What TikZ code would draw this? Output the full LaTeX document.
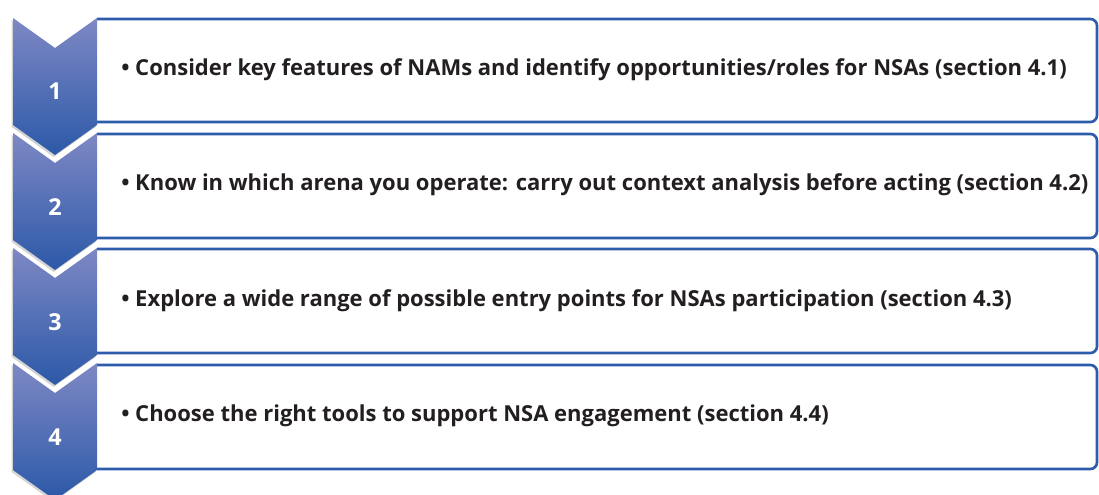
\documentclass[tikz,border=0pt]{standalone}
\usepackage{fontspec}
\setmainfont{Open Sans}
\usepackage{tikz}
\usetikzlibrary{positioning, shadows}
\definecolor{stepblue}{RGB}{44,89,168}
\definecolor{steplight}{RGB}{126,136,196}
\definecolor{lineblue}{RGB}{44,92,170}
\definecolor{textdark}{RGB}{35,31,32}

\begin{document}
\begin{tikzpicture}[
    x=0.75pt, y=-0.75pt,
    % --- STYLES ---
    chevron/.style={
        top color=steplight, bottom color=stepblue,
        drop shadow={opacity=0.35, shadow xshift=-1pt, shadow yshift=-1.5pt}
    },
    stepbox/.style={draw=lineblue, line width=2pt, rounded corners=5pt},
    stepnum/.style={text=white, font=\fontsize{17.5}{20}\selectfont\bfseries},
    steptext/.style={anchor=west, text=textdark, inner sep=0pt,
        font=\fontsize{16.5}{20}\selectfont\bfseries}
]
\useasboundingbox (0,0) rectangle (1099,495);

% ===== 1. BOXES =====
\draw[stepbox] (97,19) -| (1097,122) -- (97,122);
\draw[stepbox] (97,134) -| (1097,238) -- (97,238);
\draw[stepbox] (97,249) -| (1097,353) -- (97,353);
\draw[stepbox] (97,365) -| (1097,469) -- (97,469);

% ===== 2. CHEVRONS =====
\path[chevron] (13,18) -- (55,48) -- (97,18) -- (97,125) -- (55,155) -- (13,125) -- cycle;
\path[chevron] (13,133) -- (55,163) -- (97,133) -- (97,240) -- (55,270) -- (13,240) -- cycle;
\path[chevron] (13,248) -- (55,278) -- (97,248) -- (97,355) -- (55,385) -- (13,355) -- cycle;
\path[chevron] (13,363) -- (55,393) -- (97,363) -- (97,470) -- (55,500) -- (13,470) -- cycle;

% ===== 3. NUMBERS =====
\node[stepnum] (n1) at (55,91) {1};
\node[stepnum] (n2) at (55,207) {2};
\node[stepnum] (n3) at (55,322) {3};
\node[stepnum] (n4) at (55,437) {4};

% ===== 4. TEXTS =====
\node[steptext] (t1) at (121,70) {• Consider key features of NAMs and identify opportunities/roles for NSAs (section 4.1)};
\node[steptext] (t2) at (121,185) {• Know in which arena you operate: carry out context analysis before acting (section 4.2)};
\node[steptext] (t3) at (121,301) {• Explore a wide range of possible entry points for NSAs participation (section 4.3)};
\node[steptext] (t4) at (121,416) {• Choose the right tools to support NSA engagement (section 4.4)};

\end{tikzpicture}
\end{document}
